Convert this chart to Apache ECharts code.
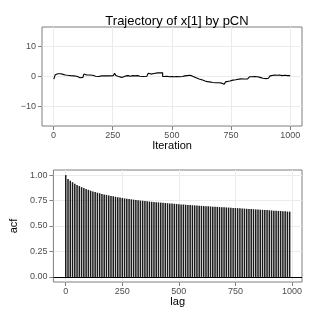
<!DOCTYPE html>
<html><head><meta charset="utf-8">
<script src="https://cdn.jsdelivr.net/npm/echarts@6/dist/echarts.min.js"></script>
<style>html,body{margin:0;padding:0;background:#fff}#c{width:315px;height:315px}</style>
</head><body><div id="c"></div>
<script>
const titleText = 'Trajectory of x[1] by pCN';
const trajIter = [1,4,7,10,14,18,22,26,30,35,40,45,50,55,60,66,72,78,85,92,98,105,112,118,124,128,133,140,146,152,158,165,172,178,184,190,196,204,212,220,228,236,244,252,258,263,268,274,280,288,296,305,315,325,335,345,355,365,372,380,388,394,400,406,412,418,424,440,461,470,480,490,500,510,520,528,535,545,555,565,575,585,592,600,608,615,622,630,640,650,660,672,685,700,710,716,721,727,735,745,758,770,778,790,805,820,828,838,850,862,872,885,898,908,915,922,935,945,955,965,978,990,1000];
const trajVal = [-0.9,-0.3,0.6,1.1,0.9,1.2,0.8,0.9,0.5,0.7,0.4,0.5,0.2,0.4,0.1,0.3,0.0,0.2,-0.1,0.1,-0.2,-0.4,-0.5,-0.3,0.1,0.8,0.5,0.3,0.5,0.2,0.4,0.2,0.1,0.3,0.0,0.4,0.2,0.1,0.2,0.0,0.2,0.1,0.3,0.1,1.1,0.3,0.0,-0.1,-0.3,-0.2,0.2,0.3,0.1,0.3,0.2,0.3,0.1,0.3,0.0,0.2,0.1,0.6,1.1,0.8,0.7,1.0,1.2,1.25,0.0,0.1,-0.1,0.0,-0.1,0.0,-0.3,-0.1,0.0,0.2,0.3,0.4,0.2,0.1,-0.3,-0.5,-0.8,-0.9,-1.2,-1.5,-1.7,-1.8,-2.0,-2.1,-2.1,-2.2,-2.4,-2.6,-2.2,-1.8,-1.5,-1.2,-1.1,-1.0,-0.8,-0.85,-0.8,-0.9,-0.1,0.0,-0.1,-0.3,-0.6,-0.7,-0.6,-0.3,0.2,0.5,0.4,0.5,0.3,0.4,0.3,0.3,0.3];
const acfLag = [0,10,20,30,40,50,60,70,80,90,100,110,120,130,140,150,160,170,180,190,200,210,220,230,240,250,260,270,280,290,300,310,320,330,340,350,360,370,380,390,400,410,420,430,440,450,460,470,480,490,500,510,520,530,540,550,560,570,580,590,600,610,620,630,640,650,660,670,680,690,700,710,720,730,740,750,760,770,780,790,800,810,820,830,840,850,860,870,880,890,900,910,920,930,940,950,960,970,980,990];
const acfVal = [1.000,0.962,0.945,0.930,0.916,0.903,0.892,0.882,0.872,0.863,0.855,0.847,0.840,0.833,0.827,0.821,0.815,0.810,0.805,0.800,0.795,0.791,0.787,0.783,0.779,0.775,0.771,0.768,0.765,0.762,0.759,0.756,0.753,0.750,0.748,0.745,0.743,0.740,0.738,0.736,0.734,0.732,0.730,0.728,0.726,0.724,0.722,0.720,0.718,0.716,0.714,0.712,0.711,0.709,0.707,0.706,0.704,0.702,0.701,0.699,0.698,0.696,0.695,0.693,0.692,0.690,0.689,0.688,0.686,0.685,0.684,0.682,0.681,0.680,0.678,0.677,0.675,0.674,0.672,0.671,0.669,0.668,0.666,0.665,0.663,0.662,0.660,0.659,0.657,0.656,0.654,0.653,0.651,0.650,0.648,0.647,0.645,0.644,0.642,0.641];
const iterTicks = [0,250,500,750,1000];
const trajTicks = [-10,0,10];
const lagTicks = [0,250,500,750,1000];
const acfTicks = [0,0.25,0.5,0.75,1];

const FONT = 'Liberation Sans';
const trajData = trajIter.map((x,i)=>[x,trajVal[i]]);
const acfData = acfLag.map((x,i)=>[x,acfVal[i]]);

function xAx(gi, min, max, ticks, name){
  return {type:'value', gridIndex:gi, min:min, max:max, name:name, nameLocation:'middle', nameGap:13.5,
    nameTextStyle:{fontFamily:FONT,fontSize:11,color:'#000',verticalAlign:'top'},
    axisLine:{show:false,onZero:false},
    axisTick:{show:true,length:4,lineStyle:{color:'#7f7f7f'},customValues:ticks},
    axisLabel:{show:true,margin:5,fontFamily:FONT,fontSize:9,color:'#4d4d4d',customValues:ticks,formatter:v=>String(v)},
    splitLine:{show:true,lineStyle:{color:'#ebebeb',width:1}}};
}
function yAx(gi, min, max, ticks, name, fmt){
  return {type:'value', gridIndex:gi, min:min, max:max, name:name, nameLocation:'middle', nameGap:23,
    nameTextStyle:{fontFamily:FONT,fontSize:11,color:'#000'},
    axisLine:{show:false,onZero:false},
    axisTick:{show:true,length:4,lineStyle:{color:'#7f7f7f'},customValues:ticks},
    axisLabel:{show:true,margin:6,fontFamily:FONT,fontSize:9,color:'#4d4d4d',customValues:ticks,formatter:fmt},
    splitLine:{show:true,lineStyle:{color:'#ebebeb',width:1}}};
}

const chart = echarts.init(document.getElementById('c'), null, {renderer:'canvas'});
chart.setOption({
  animation:false,
  backgroundColor:'#fff',
  title:{text:titleText, left:172, top:10, textAlign:'center', textStyle:{fontFamily:FONT,fontSize:13,fontWeight:'normal',color:'#000'}},
  grid:[
    {left:42, top:27, width:260, height:99, show:true, borderColor:'#7f7f7f', borderWidth:1, backgroundColor:'#fff'},
    {left:42, top:170, width:260, height:112, show:true, borderColor:'#7f7f7f', borderWidth:1, backgroundColor:'#fff'}
  ],
  xAxis:[ xAx(0,-49,1050,iterTicks,'Iteration'), xAx(1,-54.5,1044.5,lagTicks,'lag') ],
  yAxis:[ yAx(0,-16.5,16.5,trajTicks,'', v=>String(v).replace('-','\u2212')), yAx(1,-0.05,1.05,acfTicks,'acf', v=>v.toFixed(2)) ],
  series:[
    {type:'line', xAxisIndex:0, yAxisIndex:0, data:trajData, step:'end', showSymbol:false, symbol:'none',
     lineStyle:{color:'#000', width:1.1}},
    {type:'custom', xAxisIndex:1, yAxisIndex:1, data:acfData, encode:{x:0,y:1},
     renderItem:function(params, api){
       const top = api.coord([api.value(0), api.value(1)]);
       const base = api.coord([api.value(0), 0]);
       return {type:'rect', shape:{x:top[0]-0.75, y:top[1], width:1.5, height:base[1]-top[1]}, style:{fill:'#1a1a1a'}};
     },
     markLine:{symbol:'none', silent:true, animation:false, label:{show:false}, lineStyle:{color:'#000',width:1,type:'solid'}, data:[{yAxis:0}]}}
  ]
});
</script></body></html>
